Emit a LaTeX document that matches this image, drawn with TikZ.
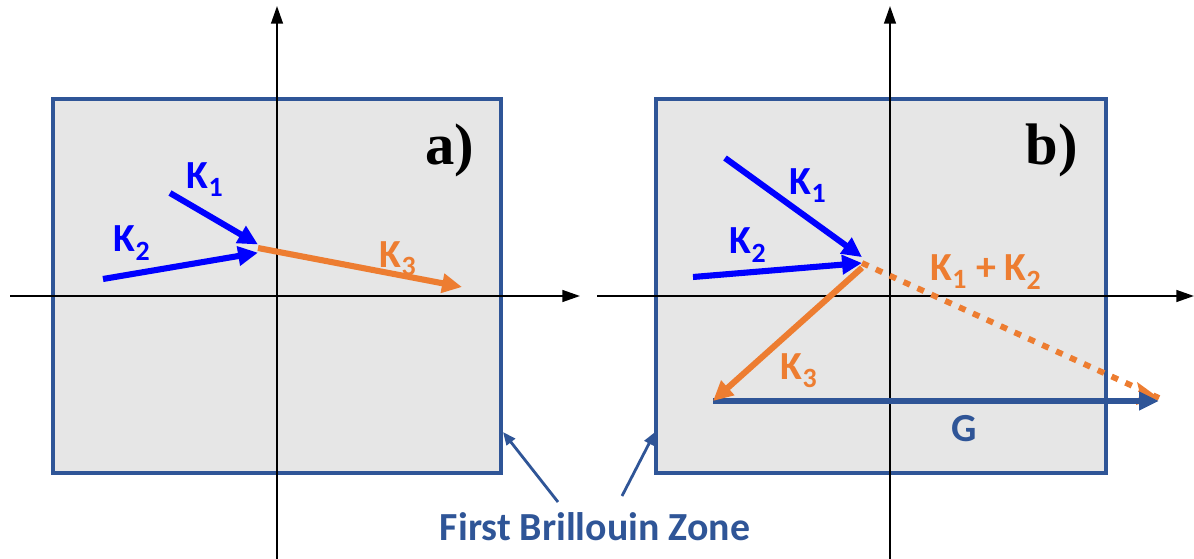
\documentclass[tikz,border=0pt]{standalone}
\usepackage{fontspec}
\setmainfont{Carlito}
\newfontfamily\panelfont{Liberation Serif}
\usetikzlibrary{arrows.meta}
\definecolor{zoneblue}{HTML}{2F5597}
\definecolor{korange}{HTML}{ED7D31}
\definecolor{zonegray}{HTML}{E6E6E6}
\tikzset{
  zone/.style={draw=zoneblue,fill=zonegray,line width=2.6pt},
  axis/.style={line width=1.7pt,-{Triangle[length=15pt,width=10pt]}},
  kvec/.style={line width=5.2pt,-{Triangle[length=17pt,width=16pt]}},
  klab/.style={font=\bfseries\fontsize{34}{36}\selectfont},
  panel/.style={font=\panelfont\bfseries\fontsize{50}{52}\selectfont},
  pointer/.style={draw=zoneblue,line width=2.4pt,-{Triangle[length=11pt,width=9pt]}}
}
\begin{document}
\begin{tikzpicture}[x=0.03cm,y=-0.03cm]
  \useasboundingbox (0,0) rectangle (1194,559);
  % panel a
  \draw[zone] (53,99) rectangle (501,473);
  \coordinate (ax0) at (10,296); \coordinate (ax1) at (580,296);
  \coordinate (ay0) at (277,559); \coordinate (ay1) at (277,6);
  \draw[axis] (ax0)--(ax1); \draw[axis] (ay0)--(ay1);
  \coordinate (oa) at (258,248);
  \coordinate (k1a) at (170,193); \coordinate (k2a) at (103,279); \coordinate (k3a) at (462,287);
  \draw[kvec,blue] (k1a)--([yshift=3pt]oa);
  \draw[kvec,blue] (k2a)--([yshift=-4pt]oa);
  \draw[kvec,korange] (oa)--(k3a);
  \node[klab,text=blue] (l1a) at (205,180) {K\textsubscript{1}};
  \node[klab,text=blue] (l2a) at (132,243) {K\textsubscript{2}};
  \node[klab,text=korange] (l3a) at (398,259) {K\textsubscript{3}};
  \node[panel] (pa) at (450,150) {a)};
  % panel b
  \draw[zone] (656,99) rectangle (1106,473);
  \coordinate (bx0) at (597,296); \coordinate (bx1) at (1194,296);
  \coordinate (by0) at (890,559); \coordinate (by1) at (890,6);
  \draw[axis] (bx0)--(bx1); \draw[axis] (by0)--(by1);
  \coordinate (ob) at (862,263);
  \coordinate (k1b) at (725,158); \coordinate (k2b) at (693,277);
  \coordinate (sb) at (1159,398); \coordinate (k3b) at (713,401); \coordinate (gb) at (1159,401);
  \draw[korange,line width=5pt,dash pattern=on 6pt off 7pt] (ob)--(sb);
  \fill[korange] (sb) -- ++(-22,-16) -- ++(3,12) -- ++(-4,11) -- cycle;
  \draw[line width=4.5pt,zoneblue,-{Triangle[length=17pt,width=15pt]}] (k3b)--(gb);
  \draw[kvec,blue] (k1b)--([yshift=5pt]ob);
  \draw[kvec,blue] (k2b)--(ob);
  \draw[kvec,korange] ([yshift=-4pt]ob)--(k3b);
  \node[klab,text=blue] (l1b) at (808,186) {K\textsubscript{1}};
  \node[klab,text=blue] (l2b) at (748,245) {K\textsubscript{2}};
  \node[klab,text=korange] (l12b) at (986,272) {K\textsubscript{1} + K\textsubscript{2}};
  \node[klab,text=korange] (l3b) at (799,371) {K\textsubscript{3}};
  \node[klab,text=zoneblue] (lg) at (964,429) {G};
  \node[panel] (pb) at (1052,150) {b)};
  % zone label
  \node[klab,text=zoneblue] (fbz) at (595,527) {First Brillouin Zone};
  \coordinate (pt1) at (558,502); \coordinate (pt2) at (622,496);
  \draw[pointer] (pt1)--(503,432); \draw[pointer] (pt2)--(655,432);
\end{tikzpicture}
\end{document}
